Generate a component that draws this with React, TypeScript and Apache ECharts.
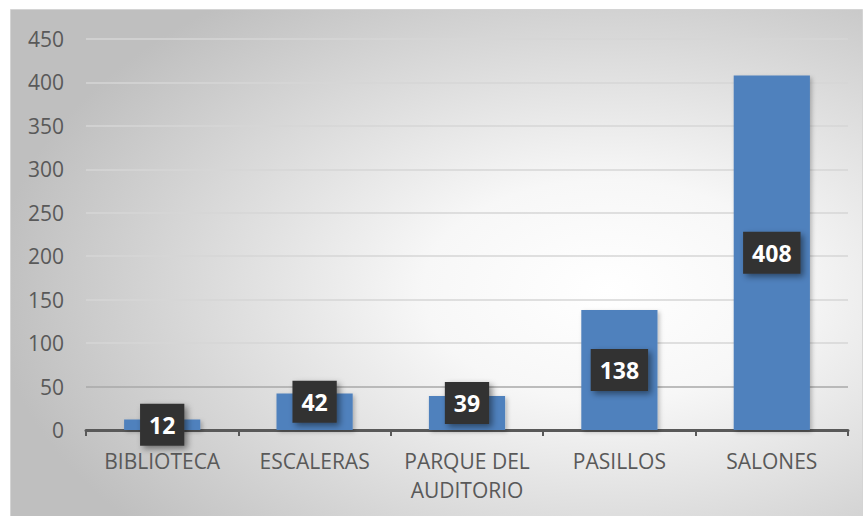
import React, { useEffect, useRef } from "react";
import * as echarts from "echarts";

const categories = ["BIBLIOTECA", "ESCALERAS", "PARQUE DEL\nAUDITORIO", "PASILLOS", "SALONES"];
const values = [12, 42, 39, 138, 408];
const yTicks = { min: 0, max: 450, interval: 50 };

export default function App() {
  const ref = useRef<HTMLDivElement>(null);
  useEffect(() => {
    if (!ref.current) return;
    const chart = echarts.init(ref.current, undefined, { renderer: "svg" });
    const font = "'Open Sans', 'Liberation Sans', sans-serif";
    chart.setOption({
      animation: false,
      graphic: [
        {
          type: "rect",
          z: -10,
          silent: true,
          shape: { x: 10.5, y: 9.5, width: 852, height: 510 },
          style: {
            fill: {
              type: "radial",
              x: 0.7,
              y: 0.55,
              r: 0.72,
              colorStops: [
                { offset: 0, color: "#ffffff" },
                { offset: 0.3, color: "#f7f7f7" },
                { offset: 1, color: "#bfbfbf" },
              ],
            },
            stroke: "#d4d4d4",
            lineWidth: 1,
          },
        },
      ],
      grid: { left: 86, right: 16, top: 39, bottom: 86, containLabel: false },
      xAxis: {
        type: "category",
        data: categories,
        axisLine: { show: true, lineStyle: { color: "#595959", width: 3 } },
        axisTick: { show: true, length: 6, lineStyle: { color: "#595959", width: 2 } },
        axisLabel: {
          color: "#595959",
          fontFamily: font,
          fontSize: 21,
          lineHeight: 29,
          margin: 16,
          interval: 0,
        },
      },
      yAxis: {
        type: "value",
        min: yTicks.min,
        max: yTicks.max,
        interval: yTicks.interval,
        axisLine: { show: false },
        axisTick: { show: false },
        axisLabel: { color: "#595959", fontFamily: font, fontSize: 21, margin: 22 },
        splitLine: {
          lineStyle: {
            color: ["#d6d6d6", "#a8a8a8", "#d6d6d6", "#d6d6d6", "#d6d6d6", "#d6d6d6", "#d6d6d6", "#d6d6d6", "#d6d6d6", "#d6d6d6"],
            width: 1.5,
          },
        },
      },
      series: [
        {
          type: "bar",
          barWidth: "50%",
          data: values.map((v, i) => ({
            value: v,
            label: i === 1 || i === 2 ? { offset: [0, -10] } : {},
          })),
          itemStyle: {
            color: "#4f81bd",
            shadowColor: "rgba(0,0,0,0.25)",
            shadowBlur: 4,
            shadowOffsetX: 2,
            shadowOffsetY: 2,
          },
          label: {
            show: true,
            position: "inside",
            color: "#ffffff",
            fontFamily: font,
            fontWeight: "bold",
            fontSize: 23,
            lineHeight: 24,
            backgroundColor: "#333333",
            padding: [9, 9, 9, 9],
            shadowColor: "rgba(0,0,0,0.45)",
            shadowBlur: 6,
            shadowOffsetX: 3,
            shadowOffsetY: 3,
          },
        },
      ],
    });
    return () => chart.dispose();
  }, []);
  return (
    <div
      ref={ref}
      style={{ position: "absolute", left: 0, top: 0, width: 864, height: 516, background: "#ffffff" }}
    />
  );
}
